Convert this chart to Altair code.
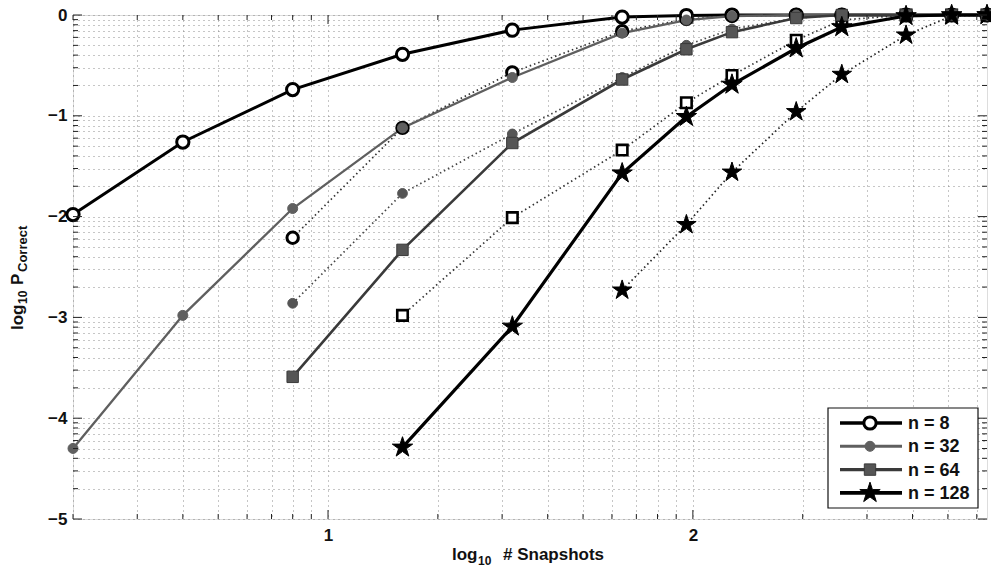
import altair as alt
import pandas as pd

# Number of snapshots at which each configuration was evaluated
snapshots = [2, 4, 8, 16, 32, 64, 96, 128, 192, 256, 384, 512, 640]

# log10 of the probability of correct recovery (solid curves)
n8_solid = [-1.98, -1.26, -0.74, -0.39, -0.15, -0.02, -0.005, 0, 0, 0, 0, 0, 0]
n32_solid = [-4.30, -2.98, -1.92, -1.12, -0.62, -0.18, -0.05, -0.01, 0, 0, 0, 0, 0]
n64_solid = [None, None, -3.59, -2.33, -1.27, -0.64, -0.34, -0.17, -0.03, 0, 0, 0, 0]
n128_solid = [None, None, None, -4.29, -3.09, -1.57, -1.01, -0.69, -0.33, -0.12, -0.01, 0, 0]

# log10 of the probability of correct recovery (dotted curves)
n8_dotted = [None, None, -2.21, -1.12, -0.57, -0.16, -0.04, -0.01, 0, 0, 0, 0, 0]
n32_dotted = [None, None, -2.86, -1.77, -1.18, -0.62, -0.30, -0.14, -0.03, 0, 0, 0, 0]
n64_dotted = [None, None, None, -2.98, -2.01, -1.34, -0.87, -0.60, -0.25, -0.05, 0, 0, 0]
n128_dotted = [None, None, None, None, None, -2.73, -2.08, -1.56, -0.96, -0.59, -0.20, -0.01, 0]

legend_labels = ["n = 8", "n = 32", "n = 64", "n = 128"]

# Axis ranges and gridline positions (log axes, labelled by exponent)
x_min, x_max = 2, 640
y_min, y_max = 1e-5, 1.0
x_grid = [k * 10 ** d for d in range(0, 3) for k in range(1, 10) if x_min <= k * 10 ** d <= x_max]
y_grid = [k * 10.0 ** d for d in range(-5, 0) for k in range(1, 10)] + [1.0]
x_major = [10, 100]
y_major = [10.0 ** d for d in range(-5, 1)]

W, H = 914, 504
FONT = "Liberation Sans"

# Five-pointed star outline in the unit square
STAR = ("M0,-1L0.225,-0.309L0.951,-0.309L0.363,0.118L0.588,0.809L0,0.382"
        "L-0.588,0.809L-0.363,0.118L-0.951,-0.309L-0.225,-0.309Z")

series = [
    # key, values, line color, width, dashed, shape, fill, stroke, stroke width, size
    ("n8d", n8_dotted, "#333333", 1.7, True, "circle", "#ffffff", "#000000", 3.0, 130),
    ("n32d", n32_dotted, "#444444", 1.7, True, "circle", "#555555", "#555555", 1.0, 95),
    ("n64d", n64_dotted, "#333333", 1.7, True, "square", "#ffffff", "#000000", 2.6, 110),
    ("n128d", n128_dotted, "#222222", 1.7, True, STAR, "#000000", "#000000", 1.0, 420),
    ("n8", n8_solid, "#000000", 3.0, False, "circle", "#ffffff", "#000000", 3.0, 150),
    ("n32", n32_solid, "#5f5f5f", 2.3, False, "circle", "#5f5f5f", "#5f5f5f", 1.0, 100),
    ("n64", n64_solid, "#3a3a3a", 2.6, False, "square", "#555555", "#3a3a3a", 1.0, 130),
    ("n128", n128_solid, "#000000", 3.2, False, STAR, "#000000", "#000000", 1.0, 460),
]

rows = []
for key, vals, *_ in series:
    for s, v in zip(snapshots, vals):
        if v is not None:
            rows.append({"series": key, "snapshots": s, "logp": v, "p": 10.0 ** v})
df = pd.DataFrame(rows)

x_label = "datum.value == 10 ? '1' : datum.value == 100 ? '2' : ''"
y_label = ("abs(log(datum.value) / LN10 - round(log(datum.value) / LN10)) < 1e-6 ? "
           "replace(format(round(log(datum.value) / LN10), 'd'), '-', '\u2212') : ''")

x_scale = alt.Scale(type="log", domain=[x_min, x_max], nice=False)
y_scale = alt.Scale(type="log", domain=[y_min, y_max], nice=False)

x_enc = alt.X(
    "snapshots:Q", scale=x_scale,
    axis=alt.Axis(values=x_grid, labelExpr=x_label, title=None, ticks=False, domain=False,
                  grid=True, gridDash=[1, 4], gridColor="#808080", gridWidth=0.9,
                  labelFont=FONT, labelFontSize=17, labelFontWeight="bold", labelColor="#111",
                  labelPadding=8, labelFlush=False),
)
y_enc = alt.Y(
    "p:Q", scale=y_scale,
    axis=alt.Axis(values=y_grid, labelExpr=y_label, title=None, ticks=False, domain=False,
                  grid=True, gridDash=[1, 4], gridColor="#808080", gridWidth=0.9,
                  labelFont=FONT, labelFontSize=17, labelFontWeight="bold", labelColor="#111",
                  labelPadding=6),
)

base = alt.Chart(df)
layers = []
for key, vals, color, width, dashed, shape, fill, stroke, sw, size in series:
    sub = base.transform_filter(alt.datum.series == key)
    line_kw = dict(color=color, strokeWidth=width)
    if dashed:
        line_kw["strokeDash"] = [1.5, 3]
    layers.append(sub.mark_line(**line_kw).encode(x=x_enc, y=y_enc))
for key, vals, color, width, dashed, shape, fill, stroke, sw, size in series:
    sub = base.transform_filter(alt.datum.series == key)
    layers.append(sub.mark_point(shape=shape, filled=False, fill=fill, stroke=stroke,
                                 strokeWidth=sw, size=size, opacity=1, fillOpacity=1)
                  .encode(x=x_enc, y=y_enc))

# Inward tick marks on all four sides of the frame
xt = pd.DataFrame({"snapshots": x_grid, "major": [v in x_major for v in x_grid]})
yt = pd.DataFrame({"p": y_grid, "major": [any(abs(v - m) < 1e-12 for m in y_major) for v in y_grid]})
xs = alt.X("snapshots:Q", scale=x_scale)
ys = alt.Y("p:Q", scale=y_scale)
for is_major, length in [(False, 5), (True, 9)]:
    xsub = alt.Chart(xt).transform_filter(alt.datum.major == is_major)
    ysub = alt.Chart(yt).transform_filter(alt.datum.major == is_major)
    layers.append(xsub.mark_rule(color="#222", strokeWidth=1).encode(x=xs, y=alt.value(H), y2=alt.value(H - length)))
    layers.append(xsub.mark_rule(color="#222", strokeWidth=1).encode(x=xs, y=alt.value(0), y2=alt.value(length)))
    layers.append(ysub.mark_rule(color="#222", strokeWidth=1).encode(y=ys, x=alt.value(0), x2=alt.value(length)))
    layers.append(ysub.mark_rule(color="#222", strokeWidth=1).encode(y=ys, x=alt.value(W), x2=alt.value(W - length)))

# Legend box in the lower right corner
one = alt.Chart(pd.DataFrame({"k": [0]}))
layers.append(one.mark_rect(fill="white", stroke="#111", strokeWidth=1.2).encode(
    x=alt.value(755), x2=alt.value(905), y=alt.value(393), y2=alt.value(493)))
legend_styles = [series[4], series[5], series[6], series[7]]
for i, (label, st) in enumerate(zip(legend_labels, legend_styles)):
    key, vals, color, width, dashed, shape, fill, stroke, sw, size = st
    ly = 408 + i * 23.3
    layers.append(one.mark_rule(color=color, strokeWidth=width + 0.6).encode(
        x=alt.value(767), x2=alt.value(829), y=alt.value(ly)))
    layers.append(one.mark_point(shape=shape, filled=False, fill=fill, stroke=stroke, strokeWidth=sw,
                                 size=size, opacity=1, fillOpacity=1).encode(x=alt.value(797), y=alt.value(ly)))
    layers.append(one.mark_text(text=label, align="left", baseline="middle", font=FONT, fontSize=18,
                                fontWeight="bold", color="#111").encode(x=alt.value(835), y=alt.value(ly + 1)))


def txt(text, x, y, size, angle=0):
    kw = dict(text=text, align="left", baseline="alphabetic", font=FONT, fontSize=size,
              fontWeight="bold", color="#111")
    if angle:
        kw["angle"] = angle
    return one.mark_text(**kw).encode(x=alt.value(x), y=alt.value(y))


# x title: log10 # Snapshots
layers.append(txt("log", 379, 545, 17))
layers.append(txt("10", 405, 550, 12))
layers.append(txt("# Snapshots", 430, 545, 17))
# y title: log10 P_Correct (rotated)
layers.append(txt("log", -50, 315, 17, 270))
layers.append(txt("10", -46, 289, 12, 270))
layers.append(txt("P", -50, 270, 17, 270))
layers.append(txt("Correct", -46, 257, 13, 270))

chart = alt.layer(*layers).properties(
    width=W, height=H,
    padding={"left": 73, "top": 15, "right": 4, "bottom": 57},
    autosize=alt.AutoSizeParams(type="none"),
).configure_view(stroke="#111", strokeWidth=1.2).configure(background="white")

chart.save("out.html", embed_options={"renderer": "svg", "actions": False})
